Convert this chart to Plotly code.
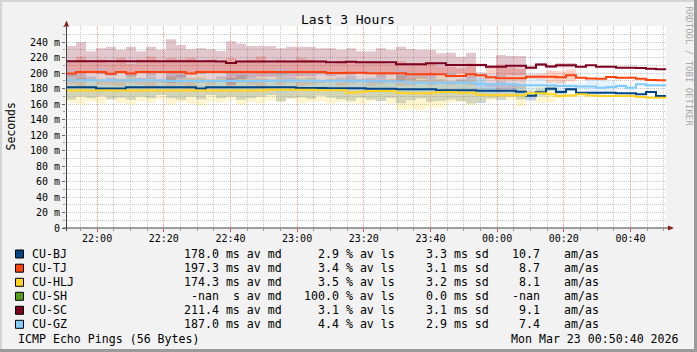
import plotly.graph_objects as go
import pandas as pd

# ---------------- data ----------------
START = "2026-03-22 21:50:40"
END = "2026-03-23 00:50:40"
STEP = "3min"

hosts = ["CU-BJ", "CU-TJ", "CU-HLJ", "CU-SH", "CU-SC", "CU-GZ"]
colors = ["#004586", "#ff420e", "#ffd320", "#579d1c", "#7e0021", "#83caff"]

# median RTT per step (ms)
bj_median = [181.5, 181.5, 181.5, 180.0, 180.0, 180.0, 181.5, 181.5, 181.5, 181.5,
             181.5, 181.5, 181.5, 180.0, 181.5, 181.5, 181.5, 181.5, 181.5, 181.5,
             181.5, 181.5, 181.5, 180.5, 180.5, 180.5, 180.2, 180.2, 180.2, 180.2,
             179.8, 179.8, 179.8, 179.0, 179.0, 179.0, 179.0, 177.8, 177.8, 177.8,
             177.8, 177.2, 177.2, 177.2, 177.2, 175.9, 170.5, 175.2, 179.8, 175.5,
             179.0, 174.6, 174.6, 174.6, 174.6, 173.8, 173.8, 172.5, 175.5, 170.3]
tj_median = [199.5, 201.3, 201.3, 201.3, 199.0, 201.3, 199.5, 201.3, 201.3, 201.3,
             201.3, 201.3, 199.5, 201.3, 201.3, 201.3, 201.3, 201.3, 201.3, 201.3,
             201.3, 201.3, 201.3, 201.3, 201.3, 201.3, 200.0, 200.0, 200.4, 200.4,
             199.6, 199.6, 199.6, 199.6, 198.3, 198.3, 198.3, 198.3, 196.1, 196.1,
             198.3, 197.0, 194.4, 193.1, 193.1, 193.1, 195.2, 195.2, 195.2, 194.4,
             197.0, 194.0, 193.0, 192.7, 194.8, 194.0, 194.0, 192.7, 191.0, 190.5]
hlj_median = [177.5, 177.5, 177.5, 177.5, 177.5, 177.5, 177.5, 177.5, 177.5, 177.5,
              177.5, 177.5, 177.5, 177.5, 177.5, 177.5, 177.5, 177.5, 177.5, 177.5,
              178.5, 178.5, 178.5, 178.5, 178.5, 177.6, 177.6, 177.6, 174.6, 175.5,
              176.8, 176.8, 176.8, 174.6, 173.8, 173.8, 173.8, 175.5, 175.5, 174.6,
              174.6, 172.0, 171.2, 171.2, 171.2, 171.2, 173.8, 173.8, 172.5, 170.3,
              171.0, 172.5, 171.0, 170.3, 170.3, 170.3, 170.3, 169.0, 168.1, 168.1]
sh_median = []  # no replies (-nan)
sc_median = [215.3, 215.3, 215.3, 215.3, 215.3, 215.3, 215.3, 215.3, 215.3, 215.3,
             215.3, 215.3, 215.3, 215.3, 215.3, 215.0, 213.0, 215.0, 215.0, 215.0,
             215.0, 215.0, 215.0, 215.0, 215.0, 215.0, 214.0, 213.8, 214.6, 213.8,
             213.8, 213.8, 213.8, 211.2, 211.2, 211.2, 212.5, 212.5, 210.3, 210.3,
             210.3, 210.3, 208.1, 208.1, 209.4, 209.4, 206.8, 211.0, 208.5, 210.0,
             210.0, 208.1, 209.9, 208.1, 208.1, 206.9, 206.9, 206.3, 205.6, 204.7]
gz_median = [190.5, 190.5, 190.5, 190.5, 190.5, 190.5, 190.5, 190.5, 190.5, 190.5,
             189.7, 189.7, 189.7, 189.7, 189.7, 189.7, 189.7, 189.7, 189.7, 189.7,
             190.0, 190.0, 190.0, 190.0, 190.0, 190.0, 190.0, 190.0, 190.0, 190.0,
             189.0, 189.0, 189.0, 189.0, 187.5, 187.5, 187.5, 187.5, 187.5, 187.5,
             187.5, 185.4, 185.4, 185.4, 185.4, 184.1, 184.1, 184.1, 184.1, 183.2,
             183.2, 182.5, 182.5, 181.0, 182.0, 183.2, 181.0, 185.4, 184.1, 184.1]

# half-width of the smoke band (ms)
bj_spread = [16, 12, 14, 10, 14, 12, 16, 12, 14, 10,
             14, 16, 12, 14, 10, 14, 12, 16, 14, 12,
             10, 18, 14, 12, 14, 10, 12, 14, 16, 12,
             14, 16, 12, 18, 14, 12, 16, 14, 12, 14,
             17, 16, 10, 12, 8, 10, 6, 4, 3, 3,
             2, 0.5, 0.5, 0.5, 0.5, 0.5, 0.5, 0.5, 0.5, 0.5]
tj_spread = [14, 20, 12, 16, 14, 18, 12, 16, 20, 14,
             18, 16, 20, 14, 16, 12, 18, 14, 16, 20,
             12, 16, 14, 18, 16, 14, 12, 16, 14, 12,
             16, 14, 12, 16, 14, 12, 14, 10, 12, 10,
             14, 4, 12, 18, 14, 12, 3, 4, 8, 8,
             8, 0.5, 0.5, 0.5, 0.5, 0.5, 0.5, 0.5, 0.5, 0.5]
hlj_spread = [16, 18, 14, 17, 12, 16, 18, 14, 16, 12,
              18, 15, 17, 19, 14, 16, 12, 18, 15, 17,
              14, 16, 12, 18, 16, 14, 17, 15, 13, 16,
              14, 12, 16, 22, 20, 22, 18, 20, 14, 12,
              16, 8, 6, 5, 6, 14, 5, 12, 10, 3,
              2, 0.5, 0.5, 0.5, 0.5, 0.5, 0.5, 0.5, 0.5, 0.5]
sh_spread = []
sc_spread = [19.5, 24.7, 12.7, 16.7, 18.7, 14.7, 18.7, 12.7, 18.7, 14.7,
             28.2, 20.7, 15.2, 16.7, 15.2, 13.4, 28.0, 23.0, 19.8, 19.8,
             19.8, 17.0, 19.0, 19.0, 19.0, 17.0, 18.0, 16.2, 17.4, 14.2,
             14.2, 18.2, 15.9, 22.8, 19.8, 18.5, 17.2, 12.9, 15.7, 10.7,
             15.7, 2.0, 2.0, 15.0, 12.6, 12.6, 2.0, 2.0, 2.0, 3.0,
             3.0, 0.5, 0.5, 0.5, 0.5, 0.5, 0.5, 0.5, 0.5, 0.5]
gz_spread = [14, 10, 12, 16, 10, 12, 8, 12, 10, 14,
             12, 10, 8, 12, 10, 12, 14, 10, 12, 8,
             12, 16, 14, 10, 12, 10, 12, 8, 10, 12,
             14, 10, 12, 16, 14, 12, 10, 12, 14, 10,
             12, 16, 14, 12, 10, 12, 16, 14, 4, 6,
             4, 4, 10, 10, 8, 3, 3, 2, 2, 2]

# legend statistics
stat_md = ["178.0 ms av md", "197.3 ms av md", "174.3 ms av md", "-nan\u00a0\u00a0s av md", "211.4 ms av md", "187.0 ms av md"]
stat_ls = ["2.9 % av ls", "3.4 % av ls", "3.5 % av ls", "100.0 % av ls", "3.1 % av ls", "4.4 % av ls"]
stat_sd = ["3.3 ms sd", "3.1 ms sd", "3.2 ms sd", "0.0 ms sd", "3.1 ms sd", "2.9 ms sd"]
stat_am = ["10.7", "8.7", "8.1", "-nan", "9.1", "7.4"]

y_ticks = [0, 20, 40, 60, 80, 100, 120, 140, 160, 180, 200, 220, 240]
y_ticktext = ["0", "20 m", "40 m", "60 m", "80 m", "100 m", "120 m", "140 m",
              "160 m", "180 m", "200 m", "220 m", "240 m"]

medians = [bj_median, tj_median, hlj_median, sh_median, sc_median, gz_median]
spreads = [bj_spread, tj_spread, hlj_spread, sh_spread, sc_spread, gz_spread]

# ---------------- figure ----------------
W, H = 697, 352
L, R, T, B = 66, 31, 26, 124
PW, PH = W - L - R, H - T - B
MONO = "DejaVu Sans Mono"


def px(x):
    return (x - L) / PW


def py(y):
    return (H - B - y) / PH


def rgba(hexc, a):
    h = hexc.lstrip("#")
    return "rgba(%d,%d,%d,%.2f)" % (int(h[0:2], 16), int(h[2:4], 16), int(h[4:6], 16), a)


fig = go.Figure()

# smoke bands
for name, col, med, spr in zip(hosts, colors, medians, spreads):
    if not med:
        continue
    n = len(med)
    edges = pd.date_range(START, periods=n + 1, freq=STEP)
    lo = [m - s for m, s in zip(med, spr)]
    hi = [m + s for m, s in zip(med, spr)]
    lo.append(lo[-1])
    hi.append(hi[-1])
    fig.add_trace(go.Scatter(x=edges, y=lo, mode="lines", line=dict(width=0, shape="hv"),
                             hoverinfo="skip", showlegend=False))
    fig.add_trace(go.Scatter(x=edges, y=hi, mode="lines", line=dict(width=0, shape="hv"),
                             fill="tonexty", fillcolor=rgba(col, 0.22),
                             hoverinfo="skip", showlegend=False))

# median lines
for name, col, med in zip(hosts, colors, medians):
    if not med:
        continue
    n = len(med)
    edges = pd.date_range(START, periods=n + 1, freq=STEP)
    yv = list(med) + [med[-1]]
    fig.add_trace(go.Scatter(x=edges, y=yv, mode="lines", name=name,
                             line=dict(color=col, width=2, shape="hv"),
                             showlegend=False))

GRID = "rgb(200,200,200)"
MGRID = "rgb(240,150,150)"

fig.update_layout(
    width=W, height=H,
    margin=dict(l=L, r=R, t=T, b=B),
    paper_bgcolor="#F2F2F2",
    plot_bgcolor="#FFFFFF",
    showlegend=False,
    xaxis=dict(
        type="date", range=[START, END],
        tick0="2026-03-22 22:00:00", dtick=20 * 60 * 1000, tickformat="%H:%M",
        showgrid=True, gridcolor=MGRID, griddash="1px,1px", gridwidth=1,
        ticks="outside", ticklen=3, tickcolor="rgb(220,80,80)",
        ticklabelstandoff=-2,
        tickfont=dict(family=MONO, size=10, color="#000"),
        minor=dict(dtick=5 * 60 * 1000, showgrid=True, gridcolor=GRID, griddash="1px,1px",
                   ticks="outside", ticklen=2, tickcolor="#999"),
        showline=False, zeroline=False, fixedrange=True,
    ),
    yaxis=dict(
        range=[0, PH / 0.775], tickvals=y_ticks, ticktext=y_ticktext,
        showgrid=True, gridcolor=GRID, griddash="1px,1px", gridwidth=1,
        ticks="outside", ticklen=3, tickcolor="#666",
        tickfont=dict(family=MONO, size=10, color="#000"),
        minor=dict(dtick=10, showgrid=True, gridcolor=GRID, griddash="1px,1px",
                   ticks="outside", ticklen=2, tickcolor="#999"),
        showline=False, zeroline=False, fixedrange=True,
    ),
)

shapes = []
# major horizontal grid lines (red)
for v in [20, 100, 180]:
    shapes.append(dict(type="line", xref="paper", x0=0, x1=1, yref="y", y0=v, y1=v,
                       line=dict(color=MGRID, width=1, dash="1px,1px"), layer="below"))
# axes
shapes.append(dict(type="line", xref="paper", yref="paper", x0=px(63), x1=px(669),
                   y0=py(228), y1=py(228), line=dict(color="#404040", width=1)))
shapes.append(dict(type="line", xref="paper", yref="paper", x0=px(66.5), x1=px(66.5),
                   y0=py(231), y1=py(25), line=dict(color="#404040", width=1)))
# arrows
shapes.append(dict(type="path", xref="paper", yref="paper",
                   path="M %f,%f L %f,%f L %f,%f Z" % (px(64.0), py(26.5), px(69.0), py(26.5), px(66.5), py(20.5)),
                   fillcolor="#8b1a1a", line=dict(width=0)))
shapes.append(dict(type="path", xref="paper", yref="paper",
                   path="M %f,%f L %f,%f L %f,%f Z" % (px(668), py(225.5), px(668), py(230.5), px(674), py(228)),
                   fillcolor="#8b1a1a", line=dict(width=0)))
# 3D frame
shapes.append(dict(type="rect", xref="paper", yref="paper", x0=px(0), x1=px(W), y0=py(0), y1=py(2),
                   fillcolor="#D4D4D4", line=dict(width=0)))
shapes.append(dict(type="rect", xref="paper", yref="paper", x0=px(0), x1=px(2), y0=py(0), y1=py(H),
                   fillcolor="#D4D4D4", line=dict(width=0)))
shapes.append(dict(type="rect", xref="paper", yref="paper", x0=px(0), x1=px(W), y0=py(H - 3), y1=py(H),
                   fillcolor="#9A9A9A", line=dict(width=0)))
shapes.append(dict(type="rect", xref="paper", yref="paper", x0=px(W - 3), x1=px(W), y0=py(0), y1=py(H),
                   fillcolor="#9A9A9A", line=dict(width=0)))

ann = []
# title
ann.append(dict(text="Last 3 Hours", xref="paper", yref="paper", x=px(348), y=py(19.3),
                xanchor="center", yanchor="middle", showarrow=False,
                font=dict(family=MONO, size=13, color="#000")))
# y title
ann.append(dict(text="Seconds", xref="paper", yref="paper", x=px(10.5), y=py(127),
                xanchor="center", yanchor="middle", showarrow=False, textangle=-90,
                font=dict(family=MONO, size=11.5, color="#000")))
# watermark
ann.append(dict(text="RRDTOOL / TOBI OETIKER", xref="paper", yref="paper", x=px(688.5), y=py(66),
                xanchor="center", yanchor="middle", showarrow=False, textangle=90,
                font=dict(family=MONO, size=9, color="#A8A8A8")))

row_y = [254, 268.2, 282.3, 296.3, 310.3, 324.3]
LF = dict(family=MONO, size=11.6, color="#000")
for i, name in enumerate(hosts):
    yc = row_y[i]
    shapes.append(dict(type="rect", xref="paper", yref="paper",
                       x0=px(15.5), x1=px(23.5), y0=py(yc - 4), y1=py(yc + 4),
                       fillcolor=colors[i], line=dict(color="#000", width=1)))
    ann.append(dict(text=name, xref="paper", yref="paper", x=px(30), y=py(yc),
                    xanchor="left", yanchor="middle", showarrow=False, font=LF))
    for txt, xr in [(stat_md[i], 284), (stat_ls[i], 397), (stat_sd[i], 491), (stat_am[i], 542)]:
        ann.append(dict(text=txt, xref="paper", yref="paper", x=px(xr), y=py(yc),
                        xanchor="right", yanchor="middle", showarrow=False, font=LF))
    ann.append(dict(text="am/as", xref="paper", yref="paper", x=px(562), y=py(yc),
                    xanchor="left", yanchor="middle", showarrow=False, font=LF))

ann.append(dict(text="ICMP Echo Pings (56 Bytes)", xref="paper", yref="paper", x=px(15.5), y=py(338.5),
                xanchor="left", yanchor="middle", showarrow=False, font=LF))
ann.append(dict(text="Mon Mar 23 00:50:40 2026", xref="paper", yref="paper", x=px(681), y=py(338.5),
                xanchor="right", yanchor="middle", showarrow=False, font=LF))

fig.update_layout(shapes=shapes, annotations=ann)
fig.write_html("out.html")
